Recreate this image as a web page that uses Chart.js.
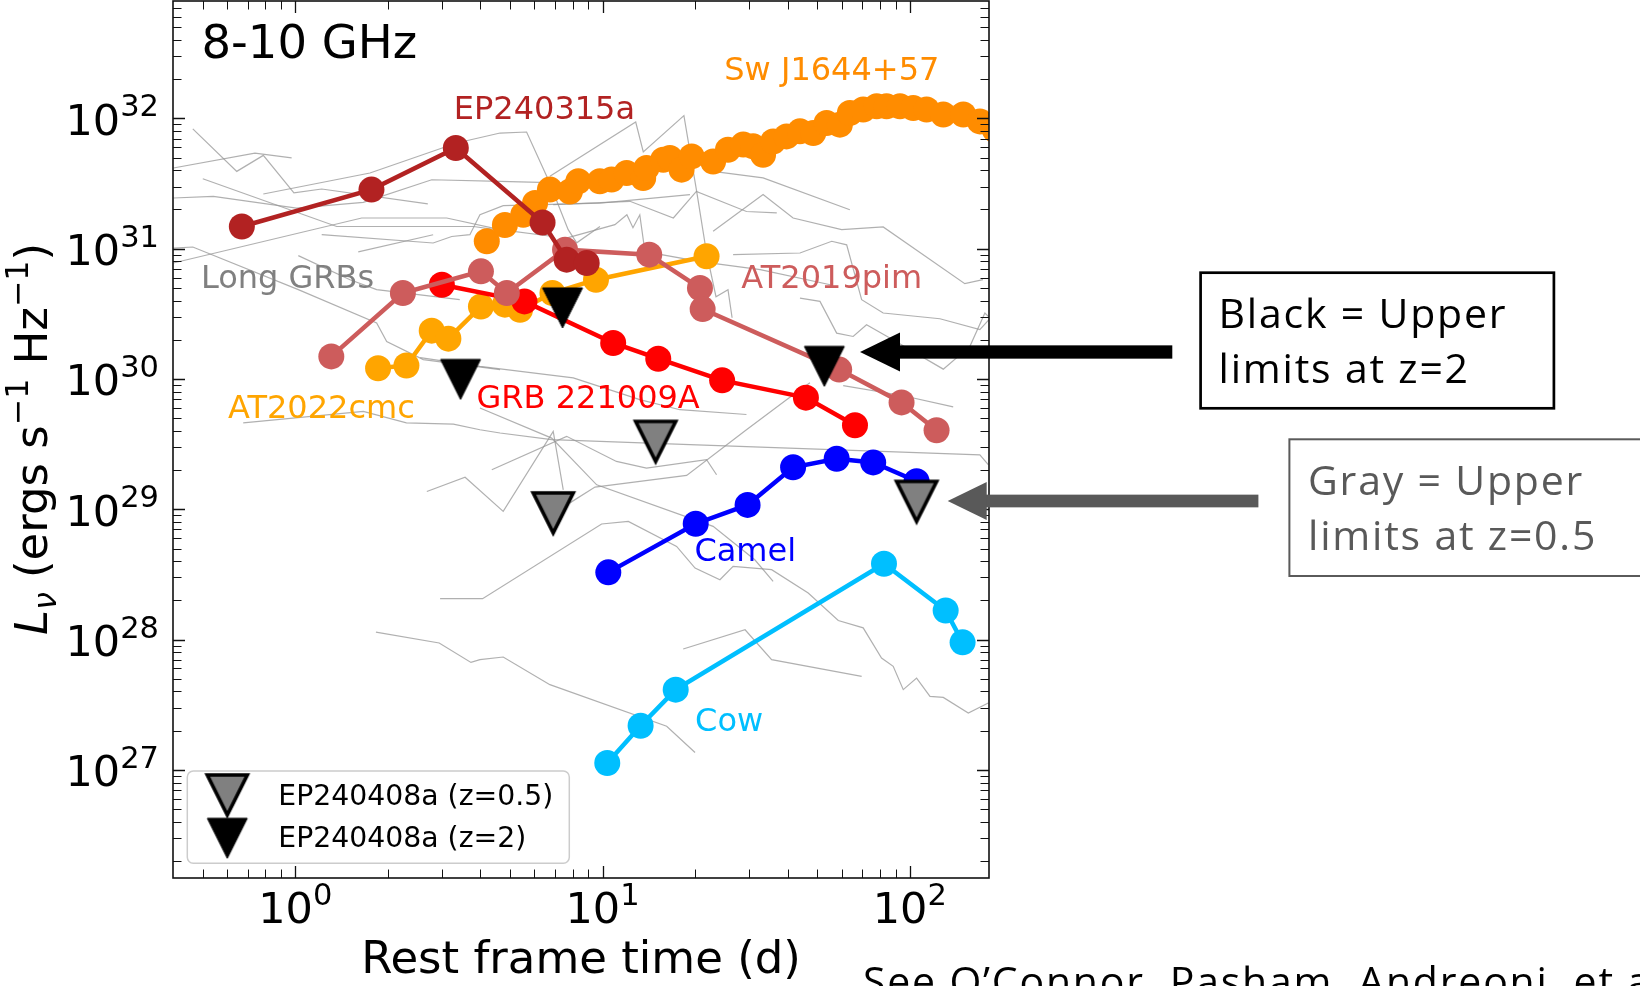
<!DOCTYPE html>
<html>
<head>
<meta charset="utf-8">
<script src="https://cdn.jsdelivr.net/npm/chart.js@4.4.1/dist/chart.umd.min.js"></script>
<style>
  html, body { margin: 0; padding: 0; background: #ffffff; }
  canvas { display: block; }
</style>
</head>
<body>
<canvas id="lc" width="1640" height="986"></canvas>
<script>
// ---------- light-curve data: rest-frame time (d) and L_nu (erg s^-1 Hz^-1) ----------
const swJ1644T = [4.20, 4.81, 5.52, 6.03, 6.74, 7.83, 8.34, 9.80, 10.7, 11.98, 13.56, 13.9, 15.76, 16.56, 18.08, 19.5,
  22.9, 25.6, 28.7, 30.9, 33.3, 35.9, 39.7, 43.9, 48.5, 53.6, 59.2, 63.8, 70.5, 78.0, 84.0, 92.9, 102.6, 113.4, 128.5,
  149.3, 169, 189];
const swJ1644L = [1.14e31, 1.52e31, 1.82e31, 2.24e31, 2.84e31, 2.75e31, 3.29e31, 3.29e31, 3.39e31, 3.81e31, 3.49e31,
  4.16e31, 4.82e31, 4.97e31, 4.04e31, 5.11e31, 4.67e31, 5.75e31, 6.29e31, 6.10e31, 5.26e31, 6.65e31, 7.27e31, 7.95e31,
  7.73e31, 9.22e31, 8.95e31, 1.10e32, 1.17e32, 1.24e32, 1.24e32, 1.24e32, 1.20e32, 1.17e32, 1.07e32, 1.07e32, 9.48e31,
  8.19e31];

const ep240315aT = [0.67, 1.77, 3.33, 6.38, 7.64, 8.88];
const ep240315aL = [1.48e31, 2.84e31, 5.93e31, 1.59e31, 8.24e30, 7.76e30];

const at2019pimT = [1.31, 2.24, 4.02, 4.88, 7.55, 14.19, 20.75, 21.17, 58.9, 94.0, 122.2];
const at2019pimL = [1.49e30, 4.57e30, 6.70e30, 4.57e30, 9.83e30, 9.0e30, 4.99e30, 3.44e30, 1.18e30, 6.61e29, 4.04e29];

const at2022cmcT = [1.86, 2.30, 2.78, 3.15, 4.02, 4.81, 5.39, 6.87, 9.52, 21.8];
const at2022cmcL = [1.21e30, 1.27e30, 2.35e30, 2.04e30, 3.60e30, 3.72e30, 3.40e30, 4.57e30, 5.78e30, 8.75e30];

const grb221009aT = [3.0, 5.57, 10.83, 15.18, 24.5, 45.9, 66.3];
const grb221009aL = [5.29e30, 3.94e30, 1.89e30, 1.43e30, 9.76e29, 7.19e29, 4.41e29];

const camelT = [10.44, 20.1, 29.65, 41.7, 57.8, 76.0, 105.2];
const camelL = [3.28e28, 7.75e28, 1.08e29, 2.10e29, 2.44e29, 2.29e29, 1.64e29];

const cowT = [10.36, 13.3, 17.3, 82.4, 130.8, 148.5];
const cowL = [1.13e27, 2.18e27, 4.13e27, 3.82e28, 1.67e28, 9.52e27];

// EP240408a upper limits for two assumed redshifts
const ep240408aZ05T = [6.91, 14.89, 105.2];
const ep240408aZ05L = [9.38e28, 3.32e29, 1.15e29];
const ep240408aZ2T = [3.45, 7.41, 52.7];
const ep240408aZ2L = [9.93e29, 3.51e30, 1.25e30];

// Long GRB comparison sample, one [time, L_nu] track per burst
const longGrbTracks = [
  [[0.464, 8.3e31], [0.645, 3.92e31], [0.787, 5.2e31], [0.99, 2.68e31], [1.219, 2.87e31], [2.70, 2.21e31]],
  [[0.401, 4.16e31], [0.739, 5.42e31], [0.973, 4.97e31]],
  [[0.787, 2.63e31], [1.75, 3.81e31], [3.35, 6.47e31], [4.64, 7.72e31], [5.66, 7.86e31], [6.66, 3.38e31], [7.73, 1.40e31], [8.24, 1.11e31], [9.81, 1.48e31]],
  [[0.50, 3.44e31], [1.364, 1.48e31], [3.80, 1.48e31], [5.0, 1.35e31]],
  [[0.401, 2.45e31], [0.541, 2.52e31], [1.01, 2.05e31], [1.665, 2.27e31], [2.78, 3.38e31], [4.64, 3.28e31], [6.74, 3.21e31]],
  [[0.401, 7.77e30], [1.645, 1.72e31], [3.11, 1.72e31], [4.64, 1.40e31], [6.9, 1.24e31]],
  [[1.219, 1.28e31], [2.81, 1.106e31], [3.23, 1.24e31], [3.70, 1.28e31], [3.99, 1.82e31], [4.75, 2.14e31], [9.81, 2.24e31], [19.25, 2.60e31]],
  [[1.603, 9.44e30], [2.81, 1.28e31]],
  [[0.401, 1.01e31], [0.464, 1.03e31], [1.023, 4.85e30], [1.84, 2.69e30], [1.984, 1.94e30], [2.61, 1.41e30], [4.64, 1.18e30]],
  [[1.023, 8.84e30], [1.507, 5.78e30], [1.84, 4.85e30], [3.43, 4.06e30]],
  [[0.677, 4.6e29], [1.665, 5.64e29], [2.30, 4.6e29], [3.27, 4.51e29], [3.99, 4.08e29], [4.64, 3.85e29], [6.83, 3.42e29], [19.25, 3.13e29], [169, 2.62e29], [180, 2.2e29]],
  [[2.68, 1.37e29], [3.57, 1.76e29], [4.75, 9.64e28], [6.91, 3.96e29], [7.45, 1.41e29]],
  [[4.36, 2.01e29], [7.64, 3.63e29], [11.1, 2.33e29], [13.9, 2.07e29], [21.8, 2.40e29], [23.5, 1.84e29]],
  [[2.96, 2.06e28], [4.07, 2.06e28], [9.93, 7.71e28], [12.13, 8.07e28], [17.42, 5.19e28], [20.0, 3.54e28], [24.1, 2.88e28], [26.6, 3.65e28], [35.5, 3.44e28], [46.7, 2.28e28], [58.5, 1.40e28], [70.5, 1.23e28], [80.9, 7.22e27], [88.3, 6.23e27], [95.2, 4.13e27], [105.2, 5.07e27], [116.3, 3.66e27], [128.5, 3.60e27], [155, 2.73e27], [180, 3.26e27]],
  [[7.83, 1.12e29], [9.45, 1.48e29], [18.78, 1.82e29], [29.4, 4.08e29], [39.7, 6.94e29], [47.3, 9.37e29]],
  [[18.3, 8.47e27], [29.1, 1.19e28], [35.5, 7.01e27], [69.7, 5.22e27]],
  [[1.83, 1.14e28], [2.94, 9.42e27], [3.73, 6.68e27], [3.99, 7.01e27], [4.75, 7.35e27], [6.74, 4.51e27], [16.17, 2.16e27], [20.0, 1.36e27]],
  [[22.9, 3.92e31], [33.3, 3.49e31], [63.8, 1.99e31]],
  [[6.91, 2.18e31], [12.28, 2.31e31], [17.0, 1.72e31], [20.2, 2.75e31], [29.4, 1.93e31], [36.9, 1.88e31]],
  [[22.9, 1.36e31], [33.3, 2.60e31], [41.7, 1.72e31], [60.0, 1.40e31], [81.9, 1.47e31], [151, 5.39e30], [173, 5.78e30]],
  [[26.6, 8.99e30], [43.9, 9.27e30], [55.7, 1.14e31], [62.3, 1.07e31], [69.7, 4.06e30], [81.9, 3.21e30], [125.3, 2.90e30], [169, 2.39e30], [181, 2.85e30]],
  [[43.9, 4.18e30], [51.0, 3.94e30], [57.8, 2.25e30], [65.4, 2.12e30], [72.3, 2.61e30], [86.1, 2.06e30], [128.5, 1.19e30], [156.9, 1.78e30], [175.5, 3.21e30], [181, 2.99e30]],
  [[60.7, 8.88e29], [95.2, 7.44e29], [138.4, 6.10e29]],
  [[6.74, 3.59e31], [12.82, 9.38e31], [13.57, 5.52e31], [18.4, 1.05e32], [20.2, 2.84e31], [21.8, 9.27e30], [23.4, 4.28e30], [25.6, 4.85e30], [26.4, 2.95e30]],
  [[7.27, 1.17e31], [10.97, 1.53e31], [12.0, 1.82e31], [12.56, 1.45e31], [13.22, 1.82e31], [13.74, 9.48e30], [20.8, 7.95e30], [32.6, 6.90e30], [55.1, 5.29e30]],
  [[2.55, 1.46e30], [3.99, 1.25e30], [8.03, 1.02e30], [13.22, 6.94e29], [17.86, 5.81e29], [29.4, 5.34e29]],
  [[3.99, 5.99e29], [6.83, 3.52e29], [9.57, 1.54e29], [22.9, 7.39e28], [31.3, 4.10e28], [35.9, 2.80e28]]
];

// axis ranges and tick labels
const timeRange = [0.4, 181];
const lumRange = [1.48e26, 7.96e32];
const timeTickExponents = [0, 1, 2];
const lumTickExponents = [27, 28, 29, 30, 31, 32];

// ---------- helpers ----------
const zip = (t, L) => t.map((v, i) => ({x: v, y: L[i]}));

function makeTriangle(fill, stroke, lw) {
  const s = 58, c = document.createElement('canvas');
  c.width = s; c.height = s;
  const g = c.getContext('2d');
  const h = 20, m = s / 2;
  g.beginPath();
  g.moveTo(m - h, m - h);
  g.lineTo(m + h, m - h);
  g.lineTo(m, m + h);
  g.closePath();
  g.fillStyle = fill;
  g.fill();
  g.lineJoin = 'miter';
  g.lineWidth = lw;
  g.strokeStyle = stroke;
  g.stroke();
  return c;
}
const grayTri = makeTriangle('#808080', '#000000', 3.6);
const blackTri = makeTriangle('#000000', '#000000', 1);

function curve(data, color, order) {
  return {
    data, order, showLine: true,
    borderColor: color, borderWidth: 4.5,
    pointRadius: 13, pointHoverRadius: 13, pointBorderWidth: 0,
    pointBackgroundColor: color, backgroundColor: color
  };
}

const datasets = [];
longGrbTracks.forEach(tr => datasets.push({
  data: tr.map(p => ({x: p[0], y: p[1]})), order: 50, showLine: true,
  borderColor: 'rgba(150,150,150,0.75)', borderWidth: 1.2, pointRadius: 0, pointHoverRadius: 0
}));
datasets.push(curve(zip(swJ1644T, swJ1644L), '#FF8C00', 40));
datasets.push(curve(zip(at2022cmcT, at2022cmcL), '#FFA500', 35));
datasets.push(curve(zip(grb221009aT, grb221009aL), '#FF0000', 30));
datasets.push(curve(zip(at2019pimT, at2019pimL), '#CD5C5C', 25));
datasets.push(curve(zip(ep240315aT, ep240315aL), '#B22222', 20));
datasets.push(curve(zip(camelT, camelL), '#0000FF', 15));
datasets.push(curve(zip(cowT, cowL), '#00BFFF', 12));
datasets.push({data: zip(ep240408aZ05T, ep240408aZ05L), order: 5, showLine: false,
  pointStyle: grayTri, pointRadius: 20, pointHoverRadius: 20});
datasets.push({data: zip(ep240408aZ2T, ep240408aZ2L), order: 4, showLine: false,
  pointStyle: blackTri, pointRadius: 20, pointHoverRadius: 20});

// text labels anchored in data coordinates
const curveLabels = [
  {text: 'Sw J1644+57', color: '#FF8C00', x: 24.9, y: 1.98e32},
  {text: 'EP240315a', color: '#B22222', x: 3.28, y: 9.95e31},
  {text: 'Long GRBs', color: '#808080', x: 0.493, y: 4.99e30},
  {text: 'AT2019pim', color: '#CD5C5C', x: 28.3, y: 4.99e30},
  {text: 'AT2022cmc', color: '#FFA500', x: 0.604, y: 5.02e29},
  {text: 'GRB 221009A', color: '#FF0000', x: 3.89, y: 5.99e29},
  {text: 'Camel', color: '#0000FF', x: 19.9, y: 3.98e28},
  {text: 'Cow', color: '#00BFFF', x: 20.0, y: 1.98e27}
];

const DV = '"DejaVu Sans", sans-serif';
const NOTE = '"Open Sans", sans-serif';

function minorTicks(min, max) {
  const out = [];
  for (let d = Math.floor(Math.log10(min)); d <= Math.ceil(Math.log10(max)); d++) {
    for (let m = 1; m <= 9; m++) {
      const v = m * Math.pow(10, d);
      if (v > min * 1.001 && v < max * 0.999) out.push({v, major: m === 1});
    }
  }
  return out;
}

function drawPow(ctx, exp, x, y, align) {
  ctx.font = '43px ' + DV;
  const w1 = ctx.measureText('10').width;
  ctx.font = '30.5px ' + DV;
  const w2 = ctx.measureText(String(exp)).width;
  const x0 = align === 'center' ? x - (w1 + w2) / 2 : x - (w1 + w2);
  ctx.textAlign = 'left';
  ctx.textBaseline = 'alphabetic';
  ctx.font = '43px ' + DV;
  ctx.fillText('10', x0, y);
  ctx.font = '30.5px ' + DV;
  ctx.fillText(String(exp), x0 + w1, y - 18.5);
}

function drawArrow(ctx, x0, tipX, y, thick, headLen, headHalf, color) {
  ctx.fillStyle = color;
  ctx.fillRect(tipX + headLen - 1, y - thick / 2, x0 - (tipX + headLen - 1), thick);
  ctx.beginPath();
  ctx.moveTo(tipX, y);
  ctx.lineTo(tipX + headLen, y - headHalf);
  ctx.lineTo(tipX + headLen, y + headHalf);
  ctx.closePath();
  ctx.fill();
}

const framePlugin = {
  id: 'frame',
  afterDraw(chart) {
    const {ctx, chartArea: a, scales: {x, y}} = chart;
    ctx.save();

    // curve labels
    ctx.font = '32px ' + DV;
    ctx.textAlign = 'left';
    ctx.textBaseline = 'alphabetic';
    curveLabels.forEach(l => {
      ctx.fillStyle = l.color;
      ctx.fillText(l.text, x.getPixelForValue(l.x), y.getPixelForValue(l.y));
    });

    // band label
    ctx.fillStyle = '#000';
    ctx.font = '46.5px ' + DV;
    ctx.fillText('8-10 GHz', a.left + 28.5, a.top + 57);

    // inward ticks on all four sides
    ctx.strokeStyle = '#111';
    minorTicks(timeRange[0], timeRange[1]).forEach(t => {
      const px = Math.round(x.getPixelForValue(t.v)) + 0.5;
      const len = t.major ? 12 : 8.5;
      ctx.lineWidth = t.major ? 1.3 : 1;
      ctx.beginPath();
      ctx.moveTo(px, a.bottom); ctx.lineTo(px, a.bottom - len);
      ctx.moveTo(px, a.top); ctx.lineTo(px, a.top + len);
      ctx.stroke();
    });
    minorTicks(lumRange[0], lumRange[1]).forEach(t => {
      const py = Math.round(y.getPixelForValue(t.v)) + 0.5;
      const len = t.major ? 12 : 8.5;
      ctx.lineWidth = t.major ? 1.3 : 1;
      ctx.beginPath();
      ctx.moveTo(a.left, py); ctx.lineTo(a.left + len, py);
      ctx.moveTo(a.right, py); ctx.lineTo(a.right - len, py);
      ctx.stroke();
    });

    // spines
    ctx.lineWidth = 1.6;
    ctx.strokeStyle = '#111';
    ctx.strokeRect(a.left, a.top, a.right - a.left, a.bottom - a.top);

    // tick labels
    ctx.fillStyle = '#000';
    timeTickExponents.forEach(e => drawPow(ctx, e, x.getPixelForValue(Math.pow(10, e)), a.bottom + 45, 'center'));
    lumTickExponents.forEach(e => drawPow(ctx, e, a.left - 14, y.getPixelForValue(Math.pow(10, e)) + 16.5, 'right'));

    // axis titles
    ctx.font = '45px ' + DV;
    ctx.textAlign = 'center';
    ctx.fillText('Rest frame time (d)', (a.left + a.right) / 2, 973);

    const parts = [
      {s: 'L', f: 'italic 45px ' + DV, dy: 0},
      {s: '\u03BD', f: 'italic 31.5px ' + DV, dy: 9},
      {s: ' (ergs s', f: '45px ' + DV, dy: 0},
      {s: '\u22121', f: '31.5px ' + DV, dy: -19},
      {s: ' Hz', f: '45px ' + DV, dy: 0},
      {s: '\u22121', f: '31.5px ' + DV, dy: -19},
      {s: ')', f: '45px ' + DV, dy: 0}
    ];
    let total = 0;
    parts.forEach(p => { ctx.font = p.f; p.w = ctx.measureText(p.s).width; total += p.w; });
    ctx.save();
    ctx.translate(47, 439);
    ctx.rotate(-Math.PI / 2);
    ctx.textAlign = 'left';
    let cx = -total / 2;
    parts.forEach(p => { ctx.font = p.f; ctx.fillText(p.s, cx, p.dy); cx += p.w; });
    ctx.restore();

    // legend
    const lx = 187.3, ly = 771, lw = 382, lh = 92.3, r = 6;
    ctx.beginPath();
    ctx.roundRect(lx, ly, lw, lh, r);
    ctx.fillStyle = 'rgba(255,255,255,0.85)';
    ctx.fill();
    ctx.lineWidth = 1.5;
    ctx.strokeStyle = '#cccccc';
    ctx.stroke();
    ctx.drawImage(grayTri, 227.3 - grayTri.width / 2, 795 - grayTri.height / 2);
    ctx.drawImage(blackTri, 227.3 - blackTri.width / 2, 838.3 - blackTri.height / 2);
    ctx.fillStyle = '#000';
    ctx.font = '28.3px ' + DV;
    ctx.textAlign = 'left';
    ctx.fillText('EP240408a (z=0.5)', 278.3, 805);
    ctx.fillText('EP240408a (z=2)', 278.3, 846.7);

    // side notes and arrows
    drawArrow(ctx, 1172.3, 860, 352, 13.3, 40, 19.5, '#000000');
    drawArrow(ctx, 1258.4, 947.7, 501, 12.7, 39, 19, '#595959');

    ctx.lineWidth = 2.7;
    ctx.strokeStyle = '#000';
    ctx.strokeRect(1200.6, 272.7, 353.3, 135.6);
    ctx.lineWidth = 2;
    ctx.strokeStyle = '#5a5a5a';
    ctx.strokeRect(1289.4, 439.3, 370, 136.7);

    ctx.font = '41px ' + NOTE;
    ctx.letterSpacing = '1.8px';
    ctx.fillStyle = '#000';
    ctx.fillText('Black = Upper', 1218.5, 328.3);
    ctx.fillText('limits at z=2', 1218.5, 383.3);
    ctx.fillStyle = '#595959';
    ctx.fillText('Gray = Upper', 1308, 495);
    ctx.fillText('limits at z=0.5', 1308, 550);

    ctx.fillStyle = '#000';
    ctx.fillText('See O\u2019Connor, Pasham, Andreoni, et al.', 863, 996);
    ctx.letterSpacing = '0px';

    ctx.restore();
  }
};

new Chart(document.getElementById('lc'), {
  type: 'scatter',
  data: {datasets},
  options: {
    responsive: false,
    animation: false,
    devicePixelRatio: 1,
    layout: {autoPadding: false, padding: {left: 173, top: 1, right: 651, bottom: 108}},
    plugins: {legend: {display: false}, tooltip: {enabled: false}},
    elements: {line: {tension: 0}},
    scales: {
      x: {type: 'logarithmic', min: timeRange[0], max: timeRange[1], display: false},
      y: {type: 'logarithmic', min: lumRange[0], max: lumRange[1], display: false}
    }
  },
  plugins: [framePlugin]
});
</script>
</body>
</html>
